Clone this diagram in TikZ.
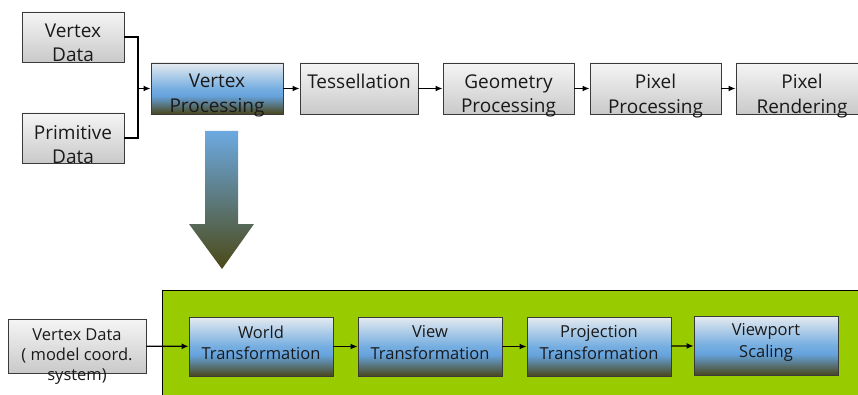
\documentclass[tikz,border=0pt]{standalone}
\usepackage{fontspec}
\setmainfont{Open Sans}
\usetikzlibrary{calc,arrows.meta}
\definecolor{boxline}{HTML}{3A3A3A}
\definecolor{panelgreen}{HTML}{99CC00}
\definecolor{arrowtop}{HTML}{6CA9E1}
\definecolor{arrowmid}{HTML}{57788F}
\definecolor{arrowbot}{HTML}{4C4916}
\definecolor{txt}{HTML}{1A1A1A}
% blue stage boxes: pale top, blue band, olive bottom
\pgfdeclareverticalshading{bluestage}{100bp}{rgb(0bp)=(0.29,0.28,0.11); rgb(25bp)=(0.29,0.28,0.11); rgb(43bp)=(0.40,0.64,0.87); rgb(50bp)=(0.46,0.68,0.88); rgb(75bp)=(0.90,0.92,0.94); rgb(100bp)=(0.90,0.92,0.94)}

\tikzset{
  graybox/.style={draw=boxline, line width=0.9pt, inner sep=0pt, top color=gray!8, bottom color=gray!42},
  bluebox/.style={draw=boxline, line width=0.9pt, inner sep=0pt, shading=bluestage},
  toptext/.style={anchor=north, inner sep=0pt, align=center, text=txt, font=\fontsize{19}{24.5}\selectfont},
  lowtext/.style={anchor=north, inner sep=0pt, align=center, text=txt, font=\fontsize{16.5}{21.5}\selectfont},
  flow/.style={line width=1.3pt, -{Latex[length=7pt,width=6pt]}},
  joinline/.style={line width=1.3pt}
}

\begin{document}
\begin{tikzpicture}[x=1pt,y=-1pt]
\useasboundingbox (0,0) rectangle (858,395);

% --- upper pipeline ---
\node[graybox, minimum width=102, minimum height=50] (vdata) at (73,37) {};
\node[graybox, minimum width=102, minimum height=50] (prim) at (73,138) {};
\node[bluebox, minimum width=132, minimum height=51] (vproc) at (217,88.5) {};
\node[graybox, minimum width=118, minimum height=51] (tess) at (359,88.5) {};
\node[graybox, minimum width=131, minimum height=51] (geom) at (508.5,88.5) {};
\node[graybox, minimum width=131, minimum height=51] (pproc) at (655.5,88.5) {};
\node[graybox, minimum width=132, minimum height=51] (prend) at (802,88.5) {};

\node[toptext] (vdata-t) at ($(vdata.north)+(0,12)$) {Vertex\\Data};
\node[toptext] (prim-t) at ($(prim.north)+(0,12.5)$) {Primitive\\Data};
\node[toptext] (vproc-t) at ($(vproc.north)+(0,11.5)$) {Vertex\\Processing};
\node[toptext] (tess-t) at ($(tess.north)+(0,11.5)$) {Tessellation};
\node[toptext] (geom-t) at ($(geom.north)+(0,11.5)$) {Geometry\\Processing};
\node[toptext] (pproc-t) at ($(pproc.north)+(0,11.5)$) {Pixel\\Processing};
\node[toptext] (prend-t) at ($(prend.north)+(0,11.5)$) {Pixel\\Rendering};

\coordinate (join) at (138,88.5);
\draw[joinline] (vdata.east) -| (join);
\draw[joinline] (prim.east) -| (join);
\draw[flow] (join) -- (vproc.west);
\draw[flow] (vproc) -- (tess);
\draw[flow] (tess) -- (geom);
\draw[flow] (geom) -- (pproc);
\draw[flow] (pproc) -- (prend);

% --- big arrow down ---
\shade[top color=arrowtop, middle color=arrowmid, bottom color=arrowbot]
  (205,131) -- (238,131) -- (238,224) -- (254,224) -- (222,269) -- (189,224) -- (205,224) -- cycle;

% --- lower pipeline ---
\filldraw[fill=panelgreen, draw=black, line width=0.9pt] (162,290) rectangle (880,420);

\node[graybox, minimum width=138, minimum height=54] (vmodel) at (77,346) {};
\node[bluebox, minimum width=144, minimum height=59] (world) at (261,346.5) {};
\node[bluebox, minimum width=144, minimum height=59] (view) at (430,346.5) {};
\node[bluebox, minimum width=144, minimum height=59] (proj) at (599,346.5) {};
\node[bluebox, minimum width=144, minimum height=59] (vport) at (766,345.5) {};

\node[lowtext, font=\fontsize{16.5}{20}\selectfont] (vmodel-t) at ($(vmodel.north)+(0,10)$) {Vertex Data\\( model coord.\\system)};
\node[lowtext] (world-t) at ($(world.north)+(0,9)$) {World\\Transformation};
\node[lowtext] (view-t) at ($(view.north)+(0,9)$) {View\\Transformation};
\node[lowtext] (proj-t) at ($(proj.north)+(0,9)$) {Projection\\Transformation};
\node[lowtext] (vport-t) at ($(vport.north)+(0,8)$) {Viewport\\Scaling};

\draw[flow] (vmodel) -- (world);
\draw[flow] (world) -- (view);
\draw[flow] (view) -- (proj);
\draw[flow] (proj) -- (vport);
\end{tikzpicture}
\end{document}
